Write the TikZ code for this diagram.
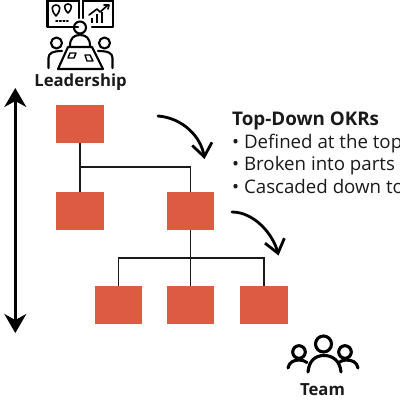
\documentclass[tikz,border=0pt]{standalone}
\usepackage{fontspec}
\setmainfont{Open Sans}
\usetikzlibrary{arrows.meta}
\definecolor{boxred}{HTML}{DD5A43}
\definecolor{ink}{HTML}{1A1A1A}
\tikzset{
  okrbox/.style={fill=boxred,draw=none,minimum width=47.5pt,minimum height=38.5pt,inner sep=0pt,outer sep=0pt},
  link/.style={draw=ink,line width=1.1pt},
  curvearrow/.style={draw=black,line width=2.8pt,line cap=round,-{Straight Barb[length=13pt,width=20pt,line width=2.8pt]}},
  bigarrow/.style={draw=black,line width=2.4pt,{Stealth[length=19pt,width=22pt,inset=6pt]}-{Stealth[length=19pt,width=22pt,inset=6pt]}},
  icon/.style={draw=black,line width=2.1pt,line cap=round,line join=round},
  iconthick/.style={draw=black,line width=3.1pt,line cap=round,line join=round},
  lab/.style={font=\bfseries\fontsize{16.7}{19}\selectfont,text=ink,inner sep=0pt},
  txt/.style={anchor=base west,inner sep=0pt,text=ink,font=\fontsize{18.7}{21}\selectfont}
}
\begin{document}
\begin{tikzpicture}[x=1pt,y=-1pt]
\useasboundingbox (0,0) rectangle (400,400);
\clip (0,0) rectangle (400,400);
% boxes
\node[okrbox] (root) at (80,124) {};
\node[okrbox] (left) at (80,211) {};
\node[okrbox] (mid) at (190.5,211) {};
\node[okrbox] (b1) at (118.5,305) {};
\node[okrbox] (b2) at (190.5,305) {};
\node[okrbox] (b3) at (264,305) {};
% tree
\draw[link] (root.south) -- (left.north);
\draw[link] (root.south |- 0,167) -| (mid.north);
\draw[link] (mid.south) -- (b2.north);
\coordinate (bus) at (190.5,258);
\draw[link] (b1.north) |- (bus) -| (b3.north);
% big arrow
\coordinate (top) at (15.3,88);
\coordinate (bot) at (15.3,333);
\draw[bigarrow] (top) -- (bot);
% curved arrows
\coordinate (a1s) at (158,116);
\coordinate (a1e) at (204.5,159);
\coordinate (a2s) at (232,212);
\coordinate (a2e) at (278.5,255.5);
\draw[curvearrow] (a1s) .. controls (183,118) and (201,137) .. (a1e);
\draw[curvearrow] (a2s) .. controls (254,212) and (273,234) .. (a2e);
% text
\node[txt,font=\bfseries\fontsize{18.8}{21}\selectfont] (title) at (232,125) {Top-Down OKRs};
\node[txt] (l1) at (232,148) {• Defined at the top};
\node[txt] (l2) at (232,170.5) {• Broken into parts};
\node[txt] (l3) at (232,193) {• Cascaded down to};
\node[lab] (lead) at (80.5,82) {Leadership};
\node[lab] (team) at (322.5,390) {Team};
% leadership icon
\draw[icon] (78,27) -- (47.5,27) -- (47.5,0.5) -- (79,0.5) -- (79,18);
\draw[icon] (92,27) -- (113,27) -- (113,0.5) -- (83,0.5) -- (83,18);
% pins
\draw[icon,line width=1.6pt] (56,16) .. controls (50,9) and (52,5) .. (56,5) .. controls (60,5) and (62,9) .. (56,16);
\draw[icon,line width=1.6pt] (68,13) .. controls (63,8) and (64,4) .. (68,4) .. controls (72,4) and (73,8) .. (68,13);
\draw[icon,line width=1.6pt,dotted] (56,21) -- (68,21);
% chart
\draw[icon,line width=1.6pt] (89,15) -- (97,9) -- (100,12) -- (108,5);
\draw[icon,line width=1.6pt] (104,5) -- (109,5) -- (108,9);
\draw[icon,line width=2.2pt,line cap=butt] (92,23) -- (92,18);
\draw[icon,line width=2.2pt,line cap=butt] (97,23) -- (97,14);
\draw[icon,line width=2.2pt,line cap=butt] (102,23) -- (102,12);
% people
\draw[icon] (80,27.5) circle (6);
\draw[icon] (56.5,43) circle (5.5);
\draw[icon] (104.5,43) circle (5.5);
\draw[icon] (70,46) .. controls (70,38) and (74,35) .. (80,35) .. controls (86,35) and (90,38) .. (90,46);
\draw[icon] (48.5,68) -- (48.5,58) .. controls (48.5,53) and (53,51) .. (62,51);
\draw[icon] (112.5,68) -- (112.5,58) .. controls (112.5,53) and (108,51) .. (98,51);
\draw[icon] (68,47) -- (92,47) -- (103,69) -- (58,69) -- cycle;
\draw[icon,line width=1.4pt] (70,53) -- (76,53) -- (74,58) -- (68,58) -- cycle;
\draw[icon,line width=1.4pt] (85,55) -- (90,55) -- (93,61) -- (87,61) -- cycle;
% team icon
\draw[iconthick] (323.5,344) circle (8);
\draw[iconthick] (299,352) circle (6.3);
\draw[iconthick] (345,352) circle (6.3);
\draw[iconthick] (308,372) .. controls (309,361) and (315,355.5) .. (324,355.5) .. controls (333,355.5) and (340,361) .. (341,372);
\draw[iconthick] (288,368) .. controls (289,362) and (294,360) .. (299,360) .. controls (302,360) and (305,361) .. (307,362.5);
\draw[iconthick] (358,368) .. controls (357,362) and (352,360) .. (346,360) .. controls (343,360) and (341,361) .. (339,362.5);
\end{tikzpicture}
\end{document}
